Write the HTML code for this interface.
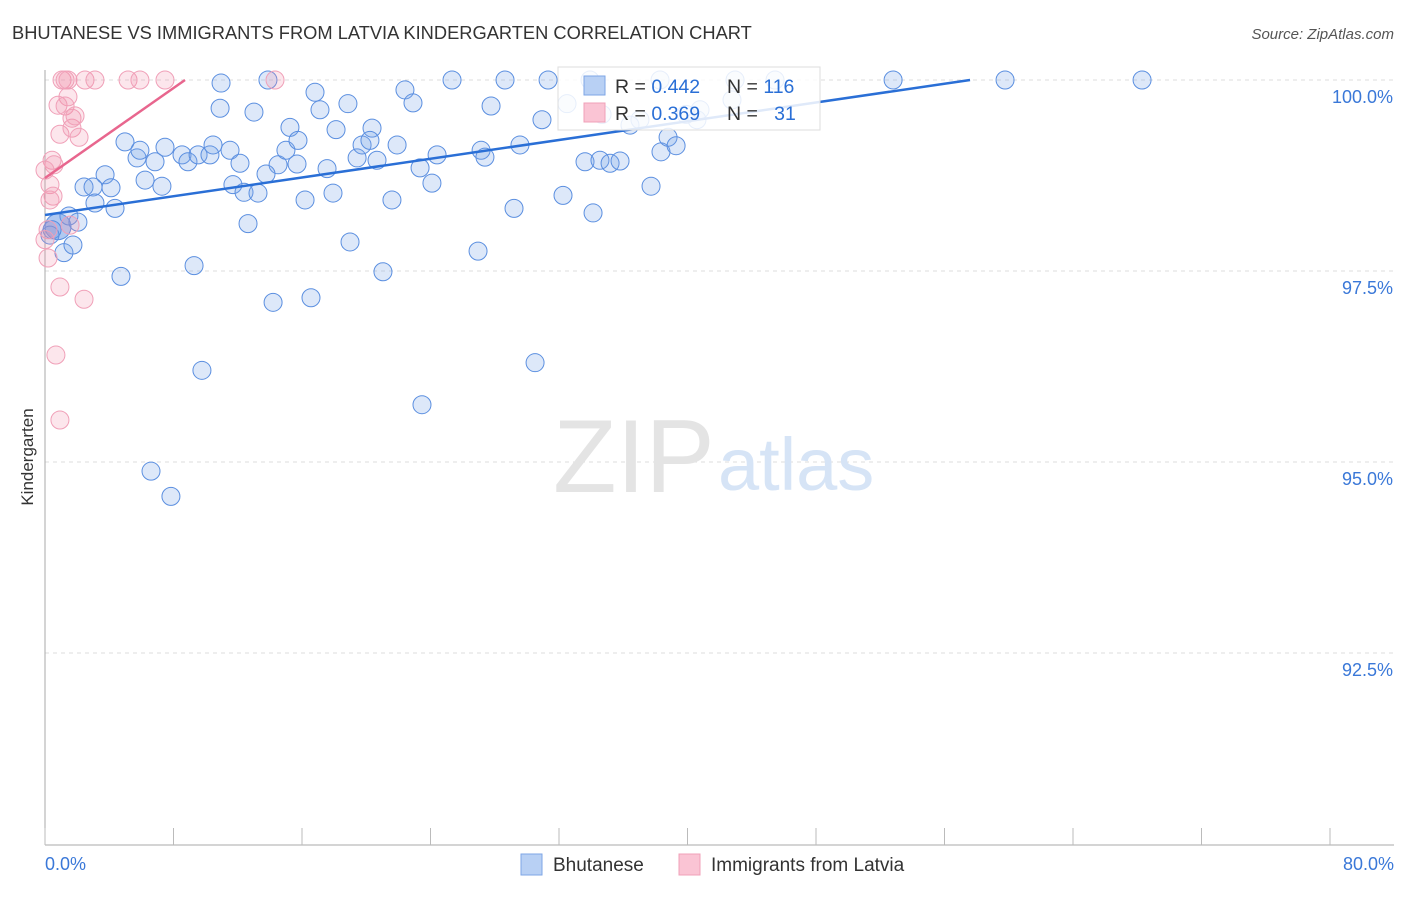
<!DOCTYPE html>
<html><head><meta charset="utf-8"><style>
body{margin:0;background:#fff;font-family:"Liberation Sans",sans-serif;}
svg text{font-family:"Liberation Sans",sans-serif;}
</style></head><body>
<svg width="1406" height="892" viewBox="0 0 1406 892">
<text x="12" y="39" font-size="18.3" fill="#333">BHUTANESE VS IMMIGRANTS FROM LATVIA KINDERGARTEN CORRELATION CHART</text>
<text x="1394" y="39" font-size="15" fill="#555" font-style="italic" text-anchor="end">Source: ZipAtlas.com</text>
<g id="grid"></g>
<g id="wm">
<text x="553" y="492" font-size="104" fill="#e4e4e4" font-family="Liberation Serif">ZIP</text>
<text x="718" y="490" font-size="74" fill="#d6e4f6">atlas</text></g>
<line x1="45" y1="70" x2="45" y2="845" stroke="#aaa"/>
<line x1="45" y1="845" x2="1394" y2="845" stroke="#aaa"/>
<g id="ticks"></g>
<g id="ylabels"></g>
<text x="45" y="870" font-size="18" fill="#3a78d8">0.0%</text>
<text x="1394" y="870" font-size="18" fill="#3a78d8" text-anchor="end">80.0%</text>
<text transform="translate(33,457) rotate(-90)" font-size="17" fill="#333" text-anchor="middle">Kindergarten</text>
<g id="pts"></g>
<g id="lines"></g>
<g>
<rect x="558" y="67" width="262" height="63" fill="#fff" fill-opacity="0.85" stroke="#ddd"/>
<rect x="584" y="76" width="21" height="19" fill="#b8d0f4" stroke="#7ea6e6"/>
<rect x="584" y="103" width="21" height="19" fill="#fac4d4" stroke="#f0a0b8"/>
<text x="615" y="93" font-size="19.5" fill="#333">R = <tspan fill="#2a6fd6">0.442</tspan></text>
<text x="727" y="93" font-size="19.5" fill="#333">N = <tspan fill="#2a6fd6">116</tspan></text>
<text x="615" y="120" font-size="19.5" fill="#333">R = <tspan fill="#2a6fd6">0.369</tspan></text>
<text x="727" y="120" font-size="19.5" fill="#333">N = <tspan fill="#2a6fd6">&#160;&#160;31</tspan></text>
</g>
<g>
<rect x="521" y="854" width="21" height="21" fill="#b8d0f4" stroke="#7ea6e6"/>
<text x="553" y="871" font-size="19" fill="#333">Bhutanese</text>
<rect x="679" y="854" width="21" height="21" fill="#fac4d4" stroke="#f0a0b8"/>
<text x="711" y="871" font-size="19" fill="#333">Immigrants from Latvia</text>
</g>
</svg>
<script>
const yTicks=[100,97.5,95,92.5];
const yTickLabels=["100.0%","97.5%","95.0%","92.5%"];
const xTicks=[0,8,16,24,32,40,48,56,64,72,80];
const blueX=[10.96,13.88,16.81,18.86,22.41,25.34,28.64,31.32,33.93,37.04,38.29,42.96,45.45,52.8,59.77,68.3,10.9,13.01,17.12,15.25,18.12,20.36,22.91,27.77,30.94,32.5,34.68,40.59,39.91,42.77,4.98,5.73,5.91,6.85,7.47,8.53,8.9,9.53,10.27,10.46,11.52,12.14,14.51,15,15.75,15.69,17.56,19.43,19.74,20.23,20.67,21.92,23.35,24.41,27.15,27.39,29.57,33.62,34.55,35.18,35.8,38.35,38.79,39.29,2.43,2.99,3.74,4.11,3.11,4.36,6.23,7.28,11.7,12.39,13.26,13.76,16.19,17.93,21.6,24.09,29.2,32.25,34.12,37.73,0.44,0.81,1.49,2.05,1.18,1.74,4.73,9.28,12.64,14.2,16.56,18.99,21.04,26.96,30.51,9.77,23.47,6.6,7.84,0.31,36.42,40.78];
const blueY=[99.96,100,99.84,99.69,99.87,100,100,100,100,99.48,100,100,100,100,100,100,99.63,99.58,99.61,99.38,99.35,99.37,99.7,99.66,99.48,99.69,99.55,99.48,99.55,99.74,99.19,98.98,99.08,98.93,99.12,99.02,98.93,99.02,99.02,99.15,99.08,98.91,98.89,99.08,99.21,98.9,98.84,98.98,99.15,99.21,98.95,99.15,98.85,99.02,99.08,98.99,99.15,98.93,98.95,98.91,98.94,99.06,99.25,99.14,98.6,98.6,98.76,98.59,98.39,98.32,98.69,98.61,98.63,98.53,98.52,98.77,98.43,98.52,98.43,98.65,98.32,98.49,98.26,98.61,98.04,98.08,98.22,98.14,97.74,97.84,97.43,97.57,98.12,97.09,97.15,97.88,97.49,97.76,96.3,96.2,95.75,94.88,94.55,97.97,99.41,99.61];
const pinkX=[1.06,1.25,1.43,2.49,3.11,5.17,5.91,7.47,14.32,1.43,0.81,1.25,0.93,1.68,2.12,1.68,1.87,0.44,0.56,0.31,0.5,0.19,1.56,0.19,0.93,2.43,0.68,0.93,0,0.31,0];
const pinkY=[100,100,100,100,100,100,100,100,100,99.78,99.67,99.66,99.29,99.37,99.25,99.5,99.53,98.95,98.89,98.63,98.48,98.04,98.1,97.67,97.29,97.13,96.4,95.55,98.82,98.43,97.91];
const blueTrend=[[0,98.233],[57.59,100]];
const pinkTrend=[[0,98.717],[8.716,100]];
const NS="http://www.w3.org/2000/svg";
const sx=v=>45+v/80*1285, sy=v=>80+(100-v)/2.5*191;
function mk(t,a,p){const e=document.createElementNS(NS,t);for(const k in a)e.setAttribute(k,a[k]);p.appendChild(e);return e;}
const grid=document.getElementById('grid'),yl=document.getElementById('ylabels'),tk=document.getElementById('ticks');
yTicks.forEach((v,i)=>{const l=mk('line',{x1:45,x2:1394,y1:sy(v),y2:sy(v),stroke:'#ddd','stroke-dasharray':'4,4'},grid);


const t=mk('text',{x:1393,y:sy(v)+23,'font-size':18,fill:'#3a78d8','text-anchor':'end'},yl);t.textContent=yTickLabels[i];

});
xTicks.forEach(v=>{const l=mk('line',{x1:sx(v),x2:sx(v),y1:828,y2:845,stroke:'#bbb'},tk);

});
const pts=document.getElementById('pts');
blueX.forEach((x,i)=>{const big=(i===85);const c=mk('circle',{cx:sx(x),cy:sy(blueY[i]),r:big?13:9,fill:big?'rgba(80,135,225,0.45)':'rgba(120,165,232,0.25)',stroke:'#5b8fe0','stroke-width':1},pts);

});
pinkX.forEach((x,i)=>{const c=mk('circle',{cx:sx(x),cy:sy(pinkY[i]),r:9,fill:'rgba(242,140,170,0.22)',stroke:'#f0a0b8','stroke-width':1},pts);

});
const lg=document.getElementById('lines');
const bl=mk('line',{x1:sx(blueTrend[0][0]),y1:sy(blueTrend[0][1]),x2:sx(blueTrend[1][0]),y2:sy(blueTrend[1][1]),stroke:'#2a6fd6','stroke-width':2.5},lg);


const pl=mk('line',{x1:sx(pinkTrend[0][0]),y1:sy(pinkTrend[0][1]),x2:sx(pinkTrend[1][0]),y2:sy(pinkTrend[1][1]),stroke:'#e8668e','stroke-width':2.5},lg);


</script>
</body></html>
